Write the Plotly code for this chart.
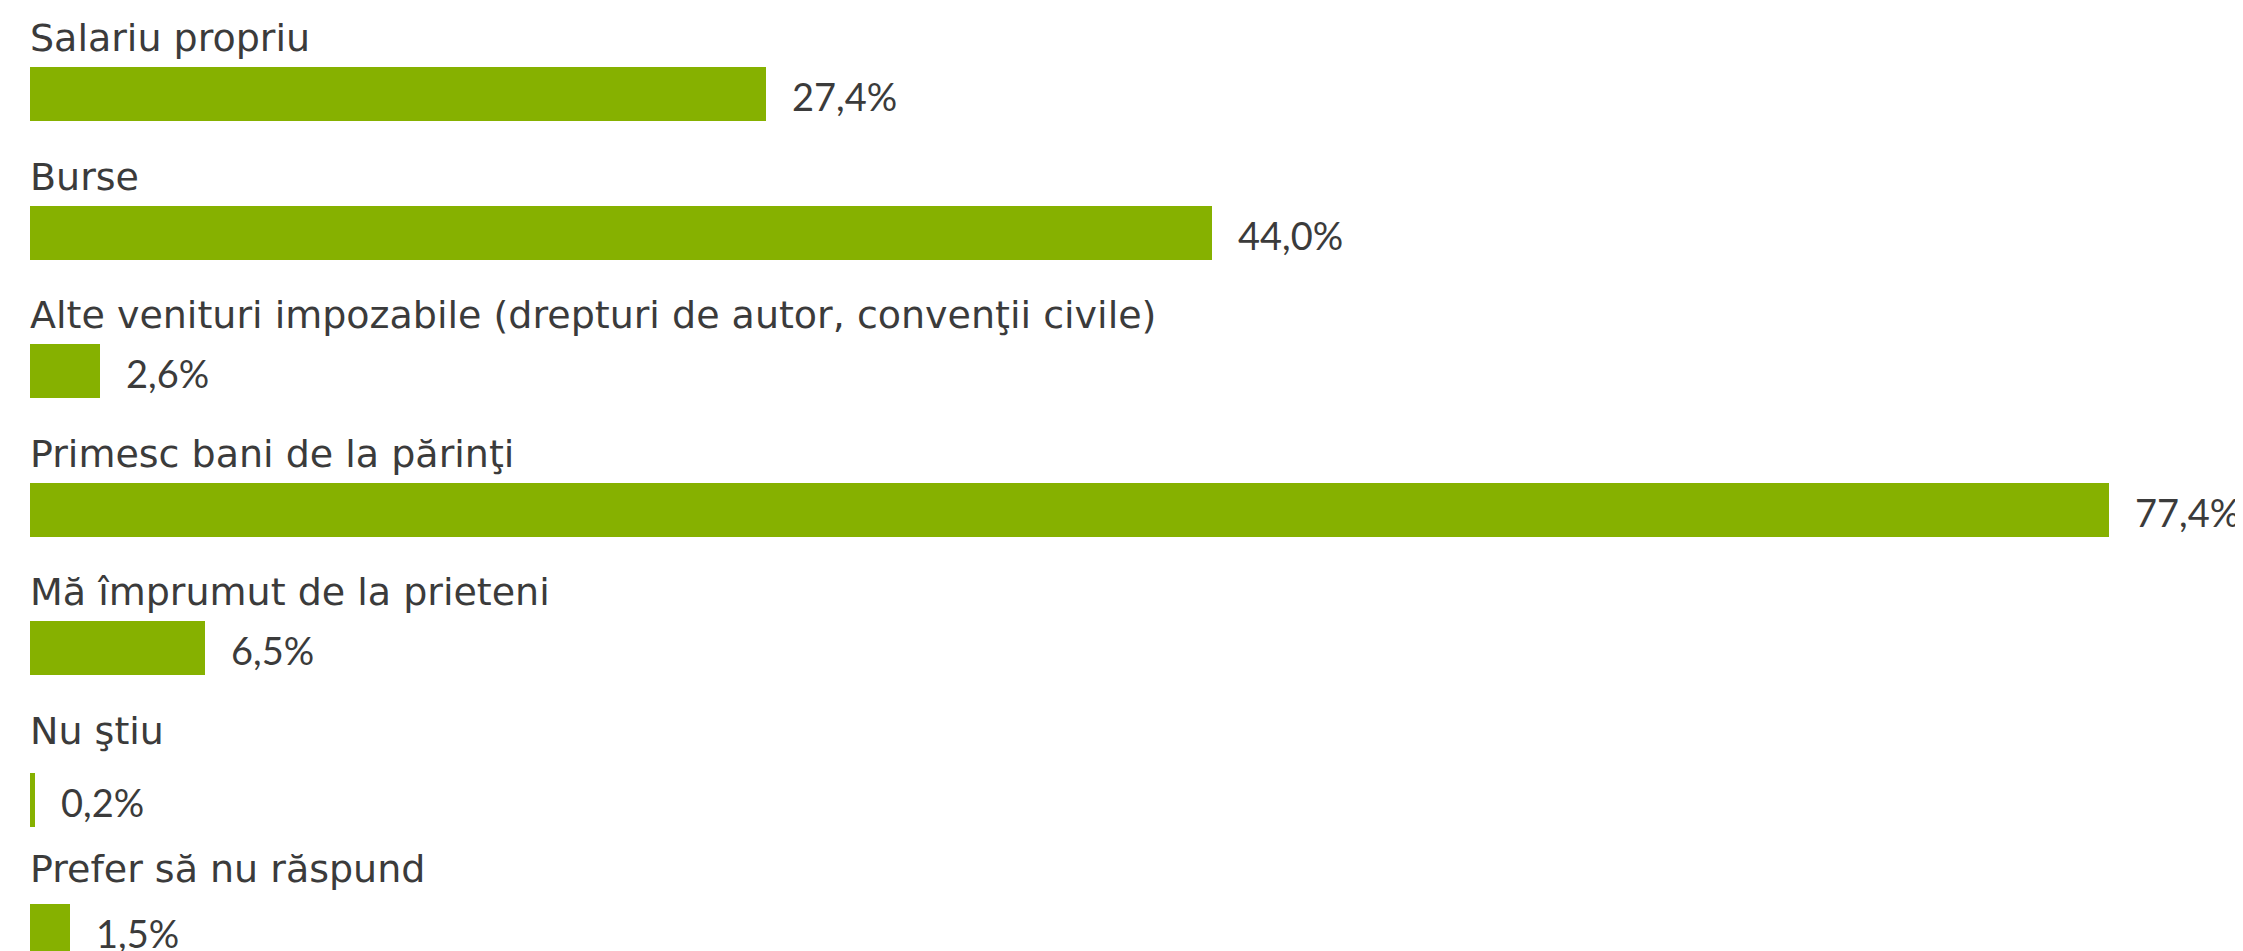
import plotly.graph_objects as go

categories = [
    "Salariu propriu",
    "Burse",
    "Alte venituri impozabile (drepturi de autor, convenţii civile)",
    "Primesc bani de la părinţi",
    "Mă împrumut de la prieteni",
    "Nu ştiu",
    "Prefer să nu răspund",
]
values = [27.4, 44.0, 2.6, 77.4, 6.5, 0.2, 1.5]
value_labels = ["27,4%", "44,0%", "2,6%", "77,4%", "6,5%", "0,2%", "1,5%"]

# layout constants (pixel-based row geometry, page coordinates)
W, H = 2243, 951
BODY = 8            # default page body margin
LEFT = 30
PX_PER_PCT = 26.86
ROW_PITCH = 138.5
BAR_FIRST = 94
LABEL_FIRST = 38
BAR_EXTRA = [0, 0, 0, 0, 0, 13, 6]
BAR_THICK = 54
BAR_COLOR = "#86B100"
TEXT_COLOR = "#3b3b3b"
LABEL_FONT = "DejaVu Sans"
LABEL_SIZE = 38
VALUE_FONT = "Lato"
VALUE_SIZE = 38

bar_y = [BAR_FIRST + i * ROW_PITCH + BAR_EXTRA[i] for i in range(len(values))]
label_y = [LABEL_FIRST + i * ROW_PITCH for i in range(len(values))]

fig = go.Figure(go.Bar(
    x=values, y=bar_y, orientation="h",
    width=BAR_THICK, marker=dict(color=BAR_COLOR, line=dict(width=0)),
    hoverinfo="skip",
))

annotations = []
for i, cat in enumerate(categories):
    annotations.append(dict(
        x=0, y=label_y[i], xref="x", yref="y", text=cat, showarrow=False,
        xanchor="left", yanchor="middle", xshift=-2,
        font=dict(family=LABEL_FONT, size=LABEL_SIZE, color=TEXT_COLOR),
    ))
    annotations.append(dict(
        x=values[i], y=bar_y[i] + 2, xref="x", yref="y", text=value_labels[i],
        showarrow=False, xanchor="left", yanchor="middle", xshift=24,
        font=dict(family=VALUE_FONT, size=VALUE_SIZE, color=TEXT_COLOR),
    ))

left_margin = LEFT - BODY
plot_w = W - left_margin
fig.update_layout(
    width=W, height=H,
    margin=dict(l=left_margin, r=0, t=0, b=0),
    paper_bgcolor="white", plot_bgcolor="white",
    showlegend=False,
    xaxis=dict(range=[0, plot_w / PX_PER_PCT], visible=False, fixedrange=True),
    yaxis=dict(range=[H + BODY, BODY], visible=False, fixedrange=True),
    annotations=annotations,
    bargap=0,
)

fig.write_html("out.html")
